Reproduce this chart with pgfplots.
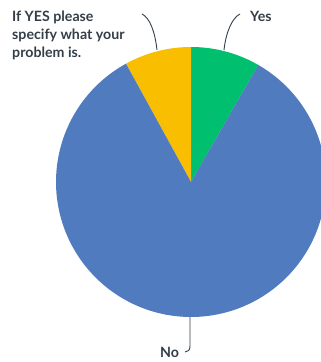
\documentclass[border=0pt]{standalone}
\usepackage{pgfplots}
\usepackage{pgfplotstable}
\pgfplotsset{compat=1.18}
\usepackage{fontspec}
\setmainfont{Lato}
\definecolor{smgreen}{HTML}{00BF6F}
\definecolor{smyellow}{HTML}{F9BE00}
\definecolor{smblue}{HTML}{507BBE}
\definecolor{txt}{HTML}{333E48}
\pgfplotstableread{
label value
Yes 8.3
IfYes 8.0
No 83.7
}\piedata
\begin{document}
\begin{tikzpicture}
\useasboundingbox (0,0) rectangle (321pt,362pt);
\pgfplotstablegetelem{0}{value}\of\piedata \let\vYes\pgfplotsretval
\pgfplotstablegetelem{1}{value}\of\piedata \let\vIf\pgfplotsretval
\pgfplotstablegetelem{2}{value}\of\piedata \let\vNo\pgfplotsretval
\pgfmathsetmacro{\aYes}{90-3.6*\vYes}
\pgfmathsetmacro{\aIf}{90+3.6*\vIf}
\pgfmathsetmacro{\aNo}{360+\aYes}
\begin{axis}[
  at={(0,0)}, anchor=south west,
  width=321pt, height=362pt, scale only axis,
  xmin=0, xmax=321, ymin=0, ymax=362,
  hide axis, clip=true,
]
\addplot[draw=none, fill=smgreen, domain=\aYes:90, samples=60, smooth]
  ({191+135*cos(x)},{180+135*sin(x)}) -- (axis cs:191,180) -- cycle;
\addplot[draw=none, fill=smyellow, domain=90:\aIf, samples=60, smooth]
  ({191+135*cos(x)},{180+135*sin(x)}) -- (axis cs:191,180) -- cycle;
\addplot[draw=none, fill=smblue, domain=\aIf:\aNo, samples=200, smooth]
  ({191+135*cos(x)},{180+135*sin(x)}) -- (axis cs:191,180) -- cycle;
% leader lines
\draw[txt, line width=0.9pt] (axis cs:142,348) .. controls (150,344) and (155,330) .. (157,312);
\draw[txt, line width=0.9pt] (axis cs:240,348) .. controls (232,344) and (226,330) .. (224,312);
\draw[txt, line width=0.9pt] (axis cs:190,45) -- (axis cs:190,16) .. controls (190,12) and (188,10) .. (185,10);
\end{axis}
\node[anchor=base west, text=txt, font=\bfseries\fontsize{14.2}{18}\selectfont, inner sep=0pt]
  at (12pt,340pt) {If YES please};
\node[anchor=base west, text=txt, font=\bfseries\fontsize{14.2}{18}\selectfont, inner sep=0pt]
  at (12pt,322pt) {specify what your};
\node[anchor=base west, text=txt, font=\bfseries\fontsize{14.2}{18}\selectfont, inner sep=0pt]
  at (12pt,304pt) {problem is.};
\node[anchor=base west, text=txt, font=\bfseries\fontsize{14.2}{18}\selectfont, inner sep=0pt]
  at (250pt,340pt) {Yes};
\node[anchor=base west, text=txt, font=\bfseries\fontsize{14.2}{18}\selectfont, inner sep=0pt]
  at (160pt,5pt) {No};
\end{tikzpicture}
\end{document}
